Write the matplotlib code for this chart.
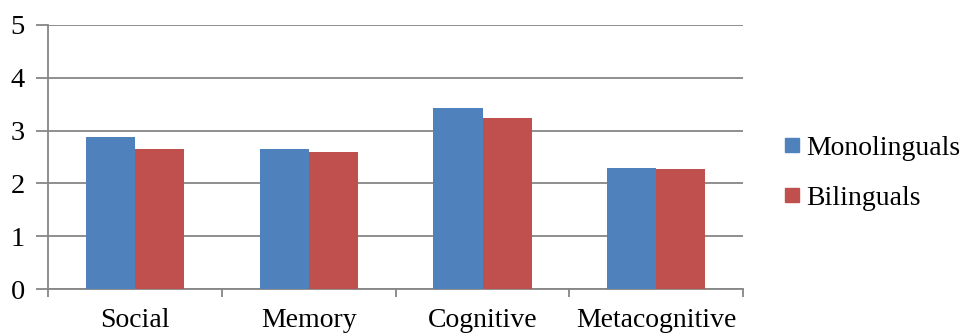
import matplotlib
matplotlib.use("Agg")
import matplotlib.pyplot as plt
from matplotlib.lines import Line2D
import numpy as np

categories = ["Social", "Memory", "Cognitive", "Metacognitive"]
monolinguals = [2.87, 2.65, 3.43, 2.30]
bilinguals = [2.66, 2.59, 3.23, 2.28]
series_names = ["Monolinguals", "Bilinguals"]
yticks = [0, 1, 2, 3, 4, 5]

plt.rcParams['font.family'] = ['Liberation Serif', 'DejaVu Serif']
blue = "#4F81BD"
red = "#C0504D"
grid = "#868686"

fig = plt.figure(figsize=(9.6, 3.33), dpi=100)
ax = fig.add_axes([0.0503, 0.132, 0.7237, 0.793])

x = np.arange(len(categories))
w = 0.283
ax.bar(x - w/2, monolinguals, w, color=blue, zorder=3)
ax.bar(x + w/2, bilinguals, w, color=red, zorder=3)

ax.set_xlim(-0.5, len(categories) - 0.5)
ax.set_ylim(0, 5)
ax.set_yticks(yticks)
ax.set_yticklabels([str(v) for v in yticks])
ax.yaxis.grid(True, color=grid, linewidth=1.3, zorder=0)
ax.set_axisbelow(True)

ax.set_xticks(x)
ax.set_xticklabels(categories)
ax.set_xticks(np.arange(len(categories) + 1) - 0.5, minor=True)
ax.tick_params(axis='x', which='major', length=0, pad=14, labelsize=20)
ax.tick_params(axis='x', which='minor', length=6, width=1.3, color=grid, direction='out')
ax.tick_params(axis='y', length=9, width=1.3, color=grid, pad=8, labelsize=20.5)

for s in ['top', 'right']:
    ax.spines[s].set_visible(False)
for s in ['left', 'bottom']:
    ax.spines[s].set_color(grid)
    ax.spines[s].set_linewidth(1.3)

handles = [Line2D([], [], marker='s', linestyle='none', markersize=9.5, color=blue),
           Line2D([], [], marker='s', linestyle='none', markersize=9.5, color=red)]
fig.legend(handles, series_names, loc='center left', bbox_to_anchor=(0.8165, 0.48),
           frameon=False, fontsize=20, handlelength=0.6, handletextpad=0.2,
           labelspacing=0.88, borderpad=0, borderaxespad=0)

fig.savefig("out.png", dpi=100)
